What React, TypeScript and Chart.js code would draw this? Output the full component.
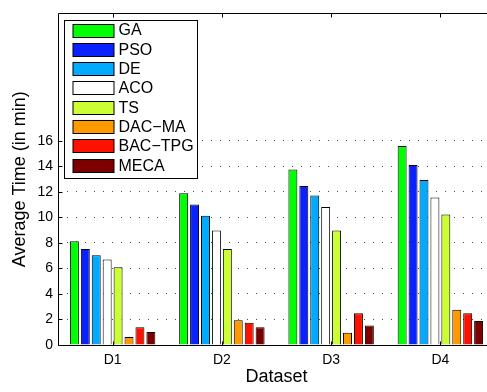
import React, { useEffect, useRef } from "react";
import { Chart, registerables } from "chart.js";

Chart.register(...registerables);

const categories = ["D1", "D2", "D3", "D4"];
const seriesNames = ["GA", "PSO", "DE", "ACO", "TS", "DAC\u2212MA", "BAC\u2212TPG", "MECA"];
const GA = [8.13, 11.9, 13.77, 15.6];
const PSO = [7.52, 11.02, 12.47, 14.12];
const DE = [7.03, 10.13, 11.73, 12.93];
const ACO = [6.7, 8.97, 10.82, 11.56];
const TS = [6.1, 7.52, 8.97, 10.23];
const DACMA = [0.63, 1.95, 0.96, 2.77];
const BACTPG = [1.4, 1.75, 2.49, 2.49];
const MECA = [1.02, 1.4, 1.52, 1.88];
const yTickValues = [0, 2, 4, 6, 8, 10, 12, 14, 16];
const colors = ["#00ff00", "#0a22ff", "#00aaff", "#ffffff", "#ccff33", "#ff9900", "#ff1100", "#7d0000"];

const FONT = "'Liberation Sans', Arial, Helvetica, sans-serif";

const framePlugin = {
  id: "frame",
  afterDraw(chart: any) {
    const { ctx, chartArea } = chart;
    const { left, right, top, bottom } = chartArea;
    const x = chart.scales.x;
    const y = chart.scales.y;
    ctx.save();
    ctx.strokeStyle = "#000";
    ctx.lineWidth = 1;
    const L = Math.round(left) + 0.5;
    const T = Math.round(top) + 0.5;
    const B = Math.round(bottom) + 0.5;
    const R = Math.round(right) + 0.5;
    ctx.beginPath();
    ctx.moveTo(L, T);
    ctx.lineTo(R, T);
    ctx.lineTo(R, B);
    ctx.lineTo(L, B);
    ctx.closePath();
    ctx.stroke();
    // inner ticks
    ctx.beginPath();
    yTickValues.forEach((v) => {
      const py = Math.round(y.getPixelForValue(v)) + 0.5;
      ctx.moveTo(L, py);
      ctx.lineTo(L + 4, py);
      ctx.moveTo(R, py);
      ctx.lineTo(R - 4, py);
    });
    categories.forEach((_, i) => {
      const px = Math.round(x.getPixelForValue(i)) + 0.5;
      ctx.moveTo(px, T);
      ctx.lineTo(px, T + 4);
      ctx.moveTo(px, B);
      ctx.lineTo(px, B - 4);
    });
    ctx.stroke();

    // legend
    const bx = L + 6;
    const by = T + 7;
    const bw = 133;
    const bh = 158;
    ctx.fillStyle = "#fff";
    ctx.fillRect(bx, by, bw, bh);
    ctx.strokeRect(bx, by, bw, bh);
    ctx.font = `16px ${FONT}`;
    ctx.textBaseline = "middle";
    ctx.textAlign = "left";
    chart.data.datasets.forEach((ds: any, i: number) => {
      const sy = by + 3 + i * 19.3;
      const sx = bx + 8.5;
      ctx.fillStyle = ds.backgroundColor;
      ctx.fillRect(sx, Math.round(sy) + 0.5, 41, 13);
      ctx.strokeStyle = "#000";
      ctx.strokeRect(sx, Math.round(sy) + 0.5, 41, 13);
      ctx.fillStyle = "#000";
      ctx.fillText(ds.label, bx + 54, sy + 7.5);
    });
    ctx.restore();
  },
};

export default function App() {
  const ref = useRef<HTMLCanvasElement>(null);
  useEffect(() => {
    document.body.style.margin = "0";
    const allSeries = [GA, PSO, DE, ACO, TS, DACMA, BACTPG, MECA];
    const chart = new Chart(ref.current!, {
      type: "bar",
      data: {
        labels: categories,
        datasets: allSeries.map((d, i) => ({
          label: seriesNames[i],
          data: d,
          backgroundColor: colors[i],
          borderColor: "#000",
          borderWidth: 1,
          borderSkipped: "bottom",
          categoryPercentage: 0.8,
          barPercentage: 0.82,
        })),
      },
      options: {
        responsive: false,
        animation: false,
        layout: { padding: { top: 3, right: 5, left: 0, bottom: 0 } },
        plugins: { legend: { display: false }, tooltip: { enabled: false } },
        scales: {
          x: {
            offset: true,
            grid: { display: false, drawTicks: false },
            border: { display: false },
            ticks: { color: "#000", font: { family: FONT, size: 14 }, padding: 7 },
            title: {
              display: true,
              text: "Dataset",
              color: "#000",
              font: { family: FONT, size: 18 },
              padding: { top: 0, bottom: 4 },
            },
            afterFit: (s: any) => {
              s.height = 47;
            },
          },
          y: {
            min: 0,
            max: 26,
            afterBuildTicks: (s: any) => {
              s.ticks = yTickValues.map((v) => ({ value: v }));
            },
            grid: {
              drawTicks: false,
              color: (c: any) => (c.tick && c.tick.value === 0 ? "rgba(0,0,0,0)" : "rgba(60,60,60,0.9)"),
              lineWidth: 1,
            },
            border: { display: false, dash: [1, 8] },
            ticks: { color: "#000", font: { family: FONT, size: 14 }, padding: 5 },
            title: {
              display: true,
              text: "Average Time (in min)",
              color: "#000",
              font: { family: FONT, size: 18 },
              padding: { top: 9, bottom: 0 },
            },
            afterFit: (s: any) => {
              s.width = 58;
            },
          },
        },
      },
      plugins: [framePlugin],
    });
    return () => chart.destroy();
  }, []);
  return (
    <div style={{ position: "absolute", left: 0, top: 0, width: 487, height: 392, overflow: "hidden", background: "#fff" }}>
      <canvas ref={ref} width={500} height={392} style={{ display: "block" }} />
    </div>
  );
}
